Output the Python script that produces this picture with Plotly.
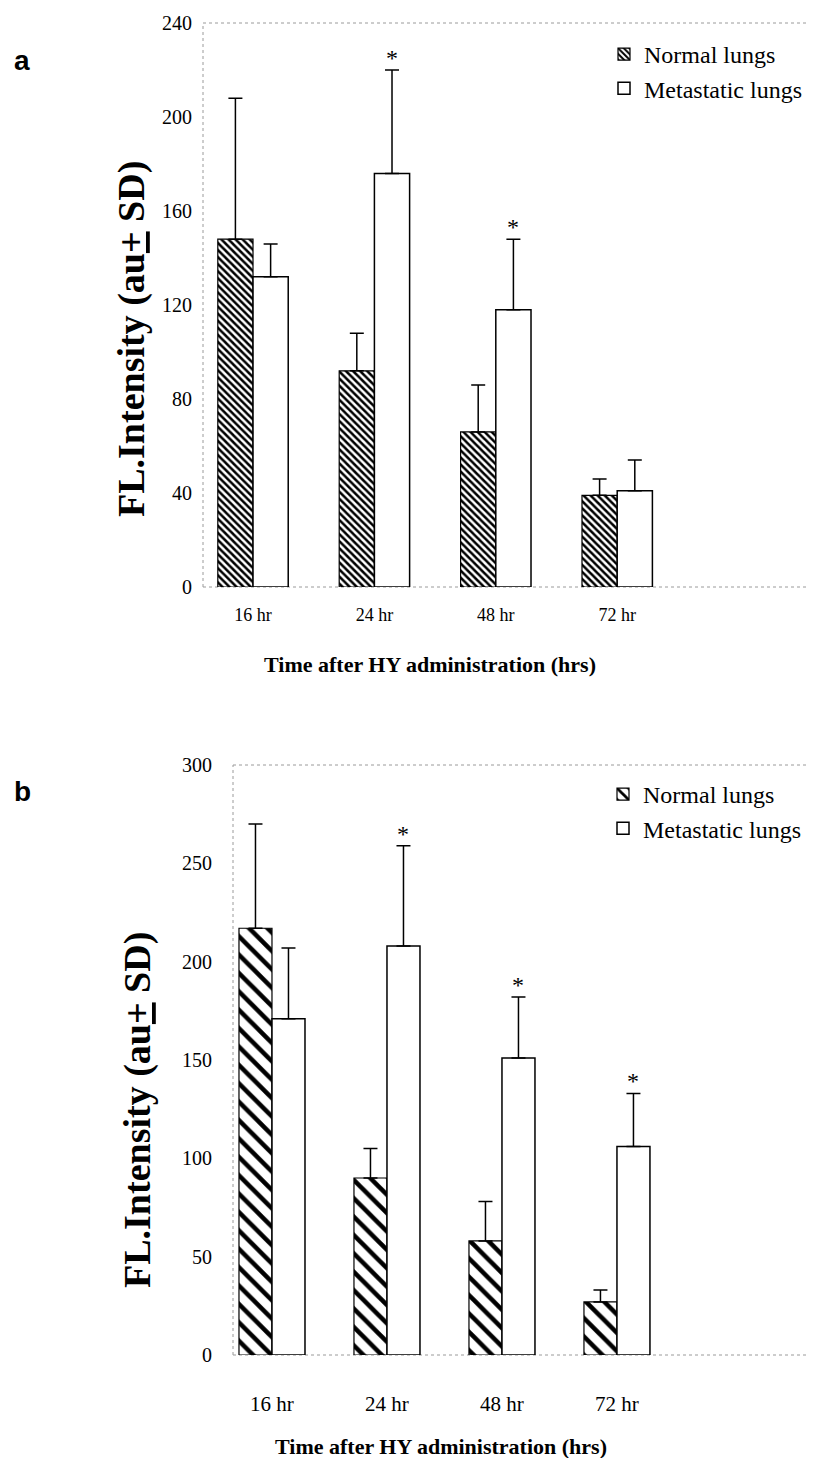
import plotly.graph_objects as go

categories = ["16 hr", "24 hr", "48 hr", "72 hr"]

# Panel a
a_normal = [148, 92, 66, 39]
a_normal_sd = [60, 16, 20, 7]
a_met = [132, 176, 118, 41]
a_met_sd = [14, 44, 30, 13]
a_sig = [False, True, True, False]
a_yticks = [0, 40, 80, 120, 160, 200, 240]

# Panel b
b_normal = [217, 90, 58, 27]
b_normal_sd = [53, 15, 20, 6]
b_met = [171, 208, 151, 106]
b_met_sd = [36, 51, 31, 27]
b_sig = [False, True, True, True]
b_yticks = [0, 50, 100, 150, 200, 250, 300]

SERIF = "Liberation Serif, Times New Roman, serif"
OFF = 8  # page body margin
W, H = 817 - 2 * OFF, 1466 - 2 * OFF
idx = list(range(len(categories)))


def px(x):
    return (x - OFF) / W


def py(y):
    return 1 - (y - OFF) / H


fig = go.Figure()


def add_panel(xa, ya, legend, normal, normal_sd, met, met_sd, w, psize, psol):
    fig.add_trace(go.Bar(
        x=idx, y=normal, width=w, offset=-w, name="Normal lungs",
        xaxis=xa, yaxis=ya, legend=legend, legendgroup=legend + "n",
        marker=dict(color="white", line=dict(color="black", width=1.2),
                    pattern=dict(shape="\\", fgcolor="black", bgcolor="white",
                                 size=psize, solidity=psol)),
        error_y=dict(type="data", array=normal_sd, arrayminus=[0] * len(normal_sd),
                     symmetric=False, color="black", thickness=1.5, width=7),
    ))
    fig.add_trace(go.Bar(
        x=idx, y=met, width=w, offset=0, name="Metastatic lungs",
        xaxis=xa, yaxis=ya, legend=legend, legendgroup=legend + "m",
        marker=dict(color="white", line=dict(color="black", width=1.5)),
        error_y=dict(type="data", array=met_sd, arrayminus=[0] * len(met_sd),
                     symmetric=False, color="black", thickness=1.5, width=7),
    ))


add_panel("x", "y", "legend", a_normal, a_normal_sd, a_met, a_met_sd, 0.29, 5, 0.5)
add_panel("x2", "y2", "legend2", b_normal, b_normal_sd, b_met, b_met_sd, 0.287, 13, 0.35)

base = dict(showgrid=False, zeroline=False, showline=False, automargin=False, ticks="")

fig.update_layout(
    template="none",
    width=W, height=H,
    margin=dict(l=0, r=0, t=0, b=0, pad=0, autoexpand=False),
    paper_bgcolor="white", plot_bgcolor="white",
    barmode="overlay",
    font=dict(family=SERIF, color="black"),
    xaxis=dict(domain=[px(203), 1], anchor="y", range=[-0.412, 4.58],
               tickvals=idx, ticktext=categories, ticklabelstandoff=15,
               tickfont=dict(family=SERIF, size=18, color="black"), **base),
    yaxis=dict(domain=[py(587), py(23)], anchor="x", range=[0, 240],
               tickvals=a_yticks, ticklabelstandoff=10,
               tickfont=dict(family=SERIF, size=20, color="black"), **base),
    xaxis2=dict(domain=[px(233), 1], anchor="y2", range=[-0.339, 4.67],
                tickvals=idx, ticktext=categories, ticklabelstandoff=34,
                tickfont=dict(family=SERIF, size=21, color="black"), **base),
    yaxis2=dict(domain=[py(1355), py(765)], anchor="x2", range=[0, 300],
                tickvals=b_yticks, ticklabelstandoff=20,
                tickfont=dict(family=SERIF, size=20, color="black"), **base),
    legend=dict(x=px(604), y=py(32), xanchor="left", yanchor="top",
                font=dict(family=SERIF, size=24, color="black"),
                bgcolor="rgba(0,0,0,0)", tracegroupgap=13, itemwidth=30,
                traceorder="normal"),
    legend2=dict(x=px(603), y=py(772), xanchor="left", yanchor="top",
                 font=dict(family=SERIF, size=24, color="black"),
                 bgcolor="rgba(0,0,0,0)", tracegroupgap=13, itemwidth=30,
                 traceorder="normal"),
)

# dotted frame lines (left, top, bottom) for each panel
for xr, yr in [("x", "y"), ("x2", "y2")]:
    for (x0, y0, x1, y1) in [(0, 0, 0, 1), (0, 1, 1, 1), (0, 0, 1, 0)]:
        fig.add_shape(type="line", xref=xr + " domain", yref=yr + " domain",
                      x0=x0, y0=y0, x1=x1, y1=y1, layer="below",
                      line=dict(color="#9a9a9a", width=1, dash="dot"))

# significance asterisks
for xr, yr, met, sd, sig, w in [("x", "y", a_met, a_met_sd, a_sig, 0.29),
                                ("x2", "y2", b_met, b_met_sd, b_sig, 0.287)]:
    for i, s in enumerate(sig):
        if s:
            fig.add_annotation(x=i + w / 2, y=met[i] + sd[i], xref=xr, yref=yr,
                               text="*", showarrow=False, xanchor="center",
                               yanchor="bottom", yshift=-3,
                               font=dict(family=SERIF, size=24, color="black"))

# axis titles
ytitle = "<b>FL.Intensity (au<u>+</u> SD)</b>"
xtitle = "<b>Time after HY administration (hrs)</b>"
for (x, y) in [(131, 339), (137, 1110)]:
    fig.add_annotation(x=px(x), y=py(y), xref="paper", yref="paper",
                       text=ytitle, textangle=-90, showarrow=False,
                       xanchor="center", yanchor="middle",
                       font=dict(family=SERIF, size=38, color="black"))
for (x, y) in [(430, 665), (441, 1446)]:
    fig.add_annotation(x=px(x), y=py(y), xref="paper", yref="paper",
                       text=xtitle, showarrow=False,
                       xanchor="center", yanchor="middle",
                       font=dict(family=SERIF, size=22, color="black"))

# panel labels
for (x, y, t) in [(22, 60, "a"), (22, 792, "b")]:
    fig.add_annotation(x=px(x), y=py(y), xref="paper", yref="paper",
                       text="<b>" + t + "</b>", showarrow=False,
                       xanchor="center", yanchor="middle",
                       font=dict(family="Liberation Sans, Arial, sans-serif",
                                 size=28, color="black"))

fig.write_html("out.html")
